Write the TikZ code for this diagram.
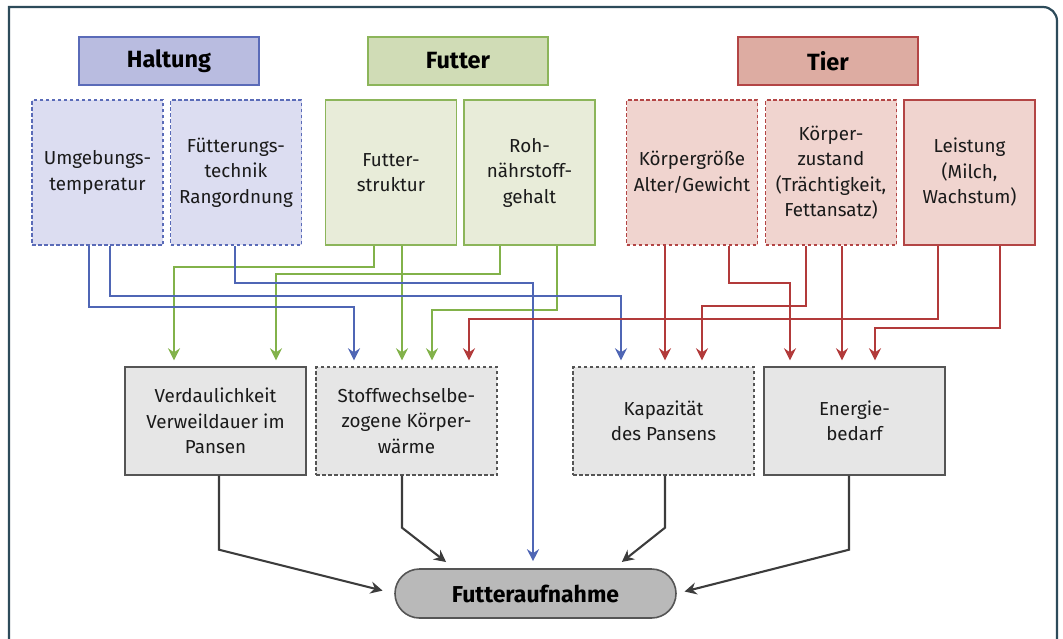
\documentclass[tikz,border=0pt]{standalone}
\usepackage{fontspec}
\setmainfont{Fira Sans}
\usetikzlibrary{arrows.meta}
\definecolor{frm}{HTML}{2D4B5A}
\definecolor{hline}{HTML}{5A6BB8}
\definecolor{htitle}{HTML}{B9BCE0}
\definecolor{hsub}{HTML}{DCDDF1}
\definecolor{fline}{HTML}{8CB55A}
\definecolor{ftitle}{HTML}{D0DCB6}
\definecolor{fsub}{HTML}{E8ECD9}
\definecolor{tline}{HTML}{B34545}
\definecolor{ttitle}{HTML}{DDACA2}
\definecolor{tsub}{HTML}{F0D4CF}
\definecolor{cblue}{HTML}{4F66B5}
\definecolor{cgreen}{HTML}{82B24A}
\definecolor{cred}{HTML}{B23A3A}
\definecolor{cdark}{HTML}{3C3C3C}
\definecolor{gbox}{HTML}{E6E6E6}
\definecolor{gline}{HTML}{555555}
\definecolor{fabox}{HTML}{B9B9B9}
\definecolor{txt}{HTML}{1A1A1A}
\tikzset{
  frame/.style={draw=frm, line width=2.2pt},
  box/.style={draw, line width=1.4pt, inner sep=0pt, align=center, text=txt,
    font=\fontsize{18.8}{25.5}\selectfont},
  ttl/.style={draw, line width=1.6pt, inner sep=0pt, minimum width=180pt, minimum height=48pt,
    text=black, font=\fontsize{23.5}{28}\selectfont\bfseries},
  subbox/.style={box, minimum width=131pt, minimum height=145pt},
  lowbox/.style={box, draw=gline, fill=gbox, minimum width=181pt, minimum height=108pt},
  dsh/.style={dash pattern=on 3.5pt off 2.5pt},
  conn/.style={line width=2.1pt, line join=miter, -{Stealth[length=12pt,width=12pt,inset=4pt]}},
  bl/.style={conn, draw=cblue, color=cblue, shorten >=6pt},
  gr/.style={conn, draw=cgreen, color=cgreen, shorten >=6pt},
  rd/.style={conn, draw=cred, color=cred, shorten >=6pt},
  dk/.style={conn, draw=cdark, color=cdark},
}
\begin{document}
\begin{tikzpicture}[x=1pt,y=-1pt]
\useasboundingbox (0,0) rectangle (1063,638);
\clip (0,0) rectangle (1063,638);
\draw[frame] (9,690) -- (9,7) -- (1043,7) to[out=0,in=90] (1057,21) -- (1057,690);

% titles
\node[ttl, draw=hline, fill=htitle] (halt) at (169,61) {Haltung};
\node[ttl, draw=fline, fill=ftitle] (fut) at (458,61) {Futter};
\node[ttl, draw=tline, fill=ttitle] (tier) at (828,61) {Tier};

% factor boxes
\node[subbox, dsh, draw=hline, fill=hsub] (umg) at (97.5,172.5) {Umgebungs-\\temperatur};
\node[subbox, dsh, draw=hline, fill=hsub] (fuet) at (236,172.5) {Fütterungs-\\technik\\Rangordnung};
\node[subbox, draw=fline, fill=fsub] (fstr) at (391,172.5) {Futter-\\struktur};
\node[subbox, draw=fline, fill=fsub] (roh) at (529.5,172.5) {Roh-\\nährstoff-\\gehalt};
\node[subbox, dsh, draw=tline, fill=tsub] (kgr) at (692,172.5) {Körpergröße\\Alter/Gewicht};
\node[subbox, dsh, draw=tline, fill=tsub] (kzu) at (831,172.5) {Körper-\\zustand\\(Trächtigkeit,\\Fettansatz)};
\node[subbox, draw=tline, fill=tsub] (leis) at (969.5,172.5) {Leistung\\(Milch,\\Wachstum)};

% intermediate boxes
\node[lowbox] (verd) at (215.5,421) {Verdaulichkeit\\Verweildauer im\\Pansen};
\node[lowbox, dsh] (stoff) at (406.5,421) {Stoffwechselbe-\\zogene Körper-\\wärme};
\node[lowbox, dsh] (kap) at (663.5,421) {Kapazität\\des Pansens};
\node[lowbox] (ener) at (854.5,421) {Energie-\\bedarf};

% result
\node[box, draw=gline, fill=fabox, line width=1.6pt, minimum width=281pt, minimum height=49pt,
  rounded corners=24.5pt, text=black, font=\fontsize{23}{28}\selectfont\bfseries] (fa) at (535.5,593.5) {Futteraufnahme};

% green connectors
\draw[gr] ([xshift=-17pt]fstr.south) |- (174,267) -- ([xshift=-41.5pt]verd.north);
\draw[gr] ([xshift=-29.5pt]roh.south) |- (276,274) -- ([xshift=60.5pt]verd.north);
\draw[gr] ([xshift=11pt]fstr.south) -- ([xshift=-4.5pt]stoff.north);
\draw[gr] ([xshift=27.5pt]roh.south) |- (432,310) -- ([xshift=25.5pt]stoff.north);

% blue connectors
\draw[bl] ([xshift=-8.5pt]umg.south) |- (354,307) -- ([xshift=-52.5pt]stoff.north);
\draw[bl] ([xshift=12.5pt]umg.south) |- (621,296) -- ([xshift=-42.5pt]kap.north);
\draw[bl, shorten >=7pt] ([xshift=-1pt]fuet.south) |- (533,283) -- ([xshift=-2.5pt]fa.north);

% red connectors
\draw[rd] ([xshift=-27pt]kgr.south) -- ([xshift=1.5pt]kap.north);
\draw[rd] ([xshift=37pt]kgr.south) |- (790,283) -- ([xshift=-64.5pt]ener.north);
\draw[rd] ([xshift=-25pt]kzu.south) |- (702,306) -- ([xshift=38.5pt]kap.north);
\draw[rd] ([xshift=11pt]kzu.south) -- ([xshift=-12.5pt]ener.north);
\draw[rd] ([xshift=-31.5pt]leis.south) |- (469,319) -- ([xshift=62.5pt]stoff.north);
\draw[rd] ([xshift=30.5pt]leis.south) |- (875,328) -- ([xshift=20.5pt]ener.north);

% dark connectors
\draw[dk, shorten >=12pt] ([xshift=3.5pt]verd.south) -- ++(0,74) -- (fa.west);
\draw[dk, shorten >=10pt] ([xshift=-4.5pt]stoff.south) -- ++(0,52) -- ([xshift=-81.5pt]fa.north);
\draw[dk, shorten >=10pt] ([xshift=1.5pt]kap.south) -- ++(0,52) -- ([xshift=78.5pt]fa.north);
\draw[dk, shorten >=8pt] ([xshift=-5.5pt]ener.south) -- ++(0,74) -- (fa.east);
\end{tikzpicture}
\end{document}
